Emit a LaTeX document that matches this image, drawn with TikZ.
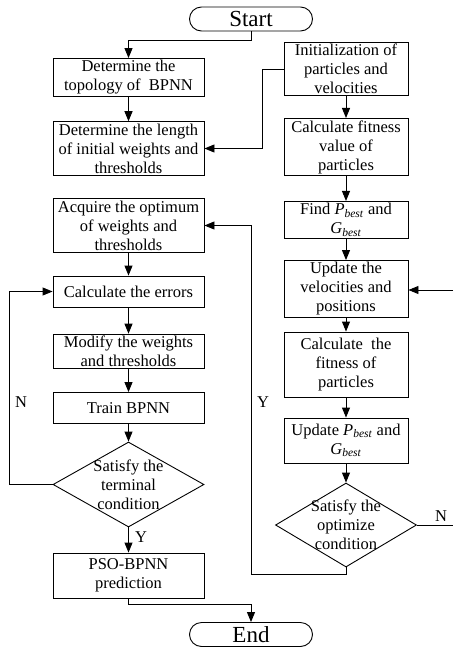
\documentclass[tikz,border=0pt]{standalone}
\usepackage{fontspec}
\setmainfont{Liberation Serif}
\usetikzlibrary{arrows.meta,positioning,shapes.geometric,calc}
\newcommand{\pbest}{\textit{P}\textsubscript{\textit{best}}}
\newcommand{\gbest}{\textit{G}\textsubscript{\textit{best}}}

\begin{document}
\begin{tikzpicture}[
    x=1pt, y=-1pt,
    font=\fontsize{16.5}{19}\selectfont,
    procbox/.style={rectangle, draw, line width=0.9pt, align=center, inner sep=2pt, minimum height=31pt},
    lbox/.style={procbox, minimum width=151pt},
    rbox/.style={procbox, minimum width=124pt},
    termbox/.style={rectangle, rounded corners=12pt, draw, line width=0.9pt, minimum width=123pt,
      minimum height=24pt, inner sep=0pt, font=\fontsize{23}{24}\selectfont},
    decbox/.style={diamond, draw, line width=0.9pt, inner sep=0pt},
    flow/.style={draw, line width=0.9pt, -{Triangle[length=10pt,width=8pt]}}
  ]
    \useasboundingbox (0,0) rectangle (453,648);

    % terminals
    \node[termbox] (start) at (251,19)    {Start};
    \node[termbox] (stop)  at (251,634.5) {End};

    % BPNN side
    \node[lbox] (topo)   at (128.5,77.5)  {Determine the\\topology of~~BPNN};
    \node[lbox] (length) at (128.5,148.5) {Determine the length\\of initial weights and\\thresholds};
    \node[lbox] (acq)    at (128.5,225.5) {Acquire the optimum\\of weights and\\thresholds};
    \node[lbox] (errors) at (128.5,291.5) {Calculate the errors};
    \node[lbox] (modify) at (128.5,351.5) {Modify the weights\\and thresholds};
    \node[lbox] (train)  at (128.5,408)   {Train BPNN};
    \node[decbox, minimum width=151pt, minimum height=85pt,
      label={[align=center]center:Satisfy the\\terminal\\condition}] (term) at (128.5,484.5) {};
    \node[lbox, minimum height=45pt] (pred) at (128.5,575.5) {PSO-BPNN\\prediction};

    % PSO side
    \node[rbox] (init)  at (346,69)    {Initialization of\\particles and\\velocities};
    \node[rbox] (fit)   at (346,147)   {Calculate fitness\\value of\\particles};
    \node[rbox] (find)  at (346,220)   {Find \pbest{} and\\\gbest};
    \node[rbox] (upvel) at (346,289)   {Update the\\velocities and\\positions};
    \node[rbox, minimum height=65pt] (fit2) at (346,364.5) {Calculate~~the\\fitness of\\particles};
    \node[rbox, minimum height=45pt] (upbest) at (346,440.5) {Update \pbest{} and\\\gbest};
    \node[decbox, minimum width=141pt, minimum height=84pt,
      label={[align=center]center:Satisfy the\\optimize\\condition}] (opt) at (346,525) {};

    % loose ends at the right border
    \coordinate (nout) at (453,525);
    \coordinate (nin)  at (453,290);

    % connectors
    \draw[flow] (start.south) -- ++(0,9) -| (topo.north);
    \draw[flow] (topo) -- (length);
    \draw[flow] (init.west) -- ++(-21,0) |- (length.east);
    \draw[flow] (init) -- (fit);
    \draw[flow] (fit) -- (find);
    \draw[flow] (find) -- (upvel);
    \draw[flow] (upvel) -- (fit2);
    \draw[flow] (fit2) -- (upbest);
    \draw[flow] (upbest) -- (opt);
    \draw[flow] (opt.south) -- ++(0,7) -| ($(acq.east)+(47,0)$) -- (acq.east);
    \draw[flow] (acq) -- (errors);
    \draw[flow] (errors) -- (modify);
    \draw[flow] (modify) -- (train);
    \draw[flow] (train) -- (term);
    \draw[flow] (term.west) -- ++(-43,0) |- (errors.west);
    \draw[flow] (term) -- (pred);
    \draw[flow] (pred.south) -- ++(0,6) -| (stop.north);
    \draw[line width=0.9pt] (opt.east) -- (nout);
    \draw[flow] (nin) -- (upvel.east |- nin);

    % branch labels
    \node at (21,402)  {N};
    \node at (141,537) {Y};
    \node at (263,402) {Y};
    \node at (441,516) {N};
  \end{tikzpicture}
\end{document}
